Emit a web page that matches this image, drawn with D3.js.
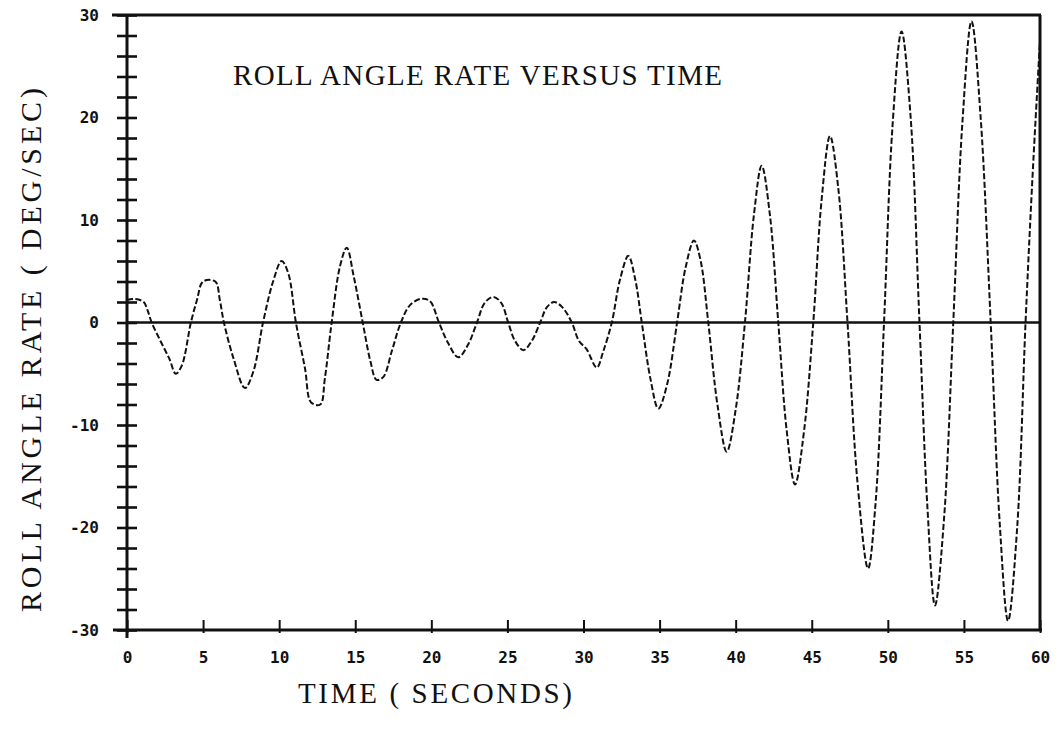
<!DOCTYPE html>
<html>
<head>
<meta charset="utf-8">
<script src="https://cdn.jsdelivr.net/npm/d3@7"></script>
<style>
  html, body { margin: 0; padding: 0; background: #fff; }
  svg { display: block; }
</style>
</head>
<body>
<svg id="chart" width="1059" height="730"></svg>
<script>
// ---- data ----
const timeSec = [0, 0.5, 1.1, 1.35, 1.62, 2.2, 2.8, 3.2, 3.6, 4.2, 4.6, 5.0, 5.8, 6.1, 6.37, 7.0, 7.75, 8.3, 8.94, 9.6,
  10.16, 10.6, 11.1, 11.7, 12.1, 12.7, 13.0, 13.45, 14.0, 14.44, 14.9, 15.49, 16.0, 16.4, 16.85, 17.4, 18.0, 18.6, 19.3, 19.9,
  20.5, 21.1, 21.77, 22.4, 23.0, 23.5, 24.07, 24.6, 25.05, 25.5, 26.05, 26.6, 27.15, 27.6, 28.07, 28.6, 29.23, 29.7, 30.2, 30.87,
  31.3, 31.86, 32.4, 32.95, 33.4, 33.83, 34.4, 34.92, 35.5, 36.15, 36.7, 37.26, 37.7, 38.2, 38.8, 39.41, 40.0, 40.61, 41.2, 41.71,
  42.25, 42.8, 43.35, 43.9, 44.5, 45.1, 45.65, 46.2, 46.75, 47.35, 48.0, 48.7, 49.2, 49.75, 50.3, 50.9, 51.5, 52.08, 52.6, 53.1,
  53.7, 54.3, 54.9, 55.5, 56.1, 56.76, 57.35, 57.9, 58.5, 59.05, 59.5, 60];
const rollRate = [2.2, 2.3, 2.0, 1.2, 0, -1.8, -3.6, -5.0, -4.2, 0, 2.2, 4.0, 4.0, 2.2, 0, -3.5, -6.4, -4.8, 0, 4.0,
  6.0, 4.8, 0, -4.5, -7.8, -8.0, -5.5, 0, 5.5, 7.3, 4.5, 0, -3.8, -5.6, -5.3, -2.8, 0, 1.7, 2.3, 2.1,
  0, -2.0, -3.4, -2.2, 0, 1.9, 2.5, 1.9, 0, -1.8, -2.7, -1.8, 0, 1.5, 2.0, 1.5, 0, -1.8, -2.6, -4.4,
  -2.8, 0, 4.2, 6.5, 4.2, 0, -5.5, -8.4, -6.0, 0, 5.3, 8.0, 6.0, 0, -8.0, -12.6, -8.5, 0, 10.5, 15.3,
  10.5, 0, -10.5, -15.8, -10.5, 0, 12.0, 18.2, 13.0, 0, -15.5, -24.0, -17.5, 0, 19.0, 28.4, 20.0, 0, -18.0, -27.6,
  -19.0, 0, 19.5, 29.4, 20.0, 0, -19.5, -29.1, -20.0, 0, 14.0, 27.5];
const xTickValues = [0, 5, 10, 15, 20, 25, 30, 35, 40, 45, 50, 55, 60];
const xTickLabels = ["0", "5", "10", "15", "20", "25", "30", "35", "40", "45", "50", "55", "60"];
const yTickValues = [30, 20, 10, 0, -10, -20, -30];
const yTickLabels = ["30", "20", "10", "0", "-10", "-20", "-30"];
const yMinorTicks = d3.range(-30, 31, 2);
const titleText = "ROLL ANGLE RATE VERSUS TIME";
const xLabelText = "TIME ( SECONDS)";
const yLabelText = "ROLL ANGLE RATE ( DEG/SEC)";

const points = timeSec.map((t, i) => ({ t, v: rollRate[i] }));

const svg = d3.select("#chart");
const x = d3.scaleLinear().domain([0, 60]).range([127, 1040]);
const y = d3.scaleLinear().domain([-30, 30]).range([630, 15]);

const ink = "#111";
const serifText = "'Liberation Serif', 'DejaVu Serif', serif";
const tickFont = "'DejaVu Sans Mono', monospace";

// frame: top and right borders
svg.append("line").attr("x1", 112).attr("x2", x(60) + 1).attr("y1", y(30)).attr("y2", y(30))
  .attr("stroke", ink).attr("stroke-width", 3);
svg.append("line").attr("x1", x(60)).attr("x2", x(60)).attr("y1", y(30)).attr("y2", y(-30) + 1)
  .attr("stroke", ink).attr("stroke-width", 3);

// zero line
svg.append("line").attr("x1", x(0)).attr("x2", x(60)).attr("y1", y(0)).attr("y2", y(0))
  .attr("stroke", ink).attr("stroke-width", 2.6);

// left axis: minor ticks crossing the axis every 2 units
const yAxis = d3.axisLeft(y).tickValues(yMinorTicks).tickSize(0).tickFormat("");
const gy = svg.append("g").attr("transform", `translate(${x(0)},0)`).call(yAxis);
gy.select(".domain").remove();
gy.append("line").attr("x1", 0).attr("x2", 0).attr("y1", y(30) - 1).attr("y2", y(-30) + 8)
  .attr("stroke", ink).attr("stroke-width", 3);
gy.selectAll(".tick").append("line").attr("x1", -10).attr("x2", 10).attr("stroke", ink).attr("stroke-width", 2.6);

// y tick labels
const yLab = d3.axisLeft(y).tickValues(yTickValues).tickSize(0)
  .tickFormat((d, i) => yTickLabels[i]);
const gyl = svg.append("g").attr("transform", `translate(99,0)`).call(yLab);
gyl.select(".domain").remove();
gyl.selectAll("text").attr("x", 0).attr("font-family", tickFont).attr("font-weight", "bold")
  .attr("font-size", 16).attr("fill", ink).attr("text-anchor", "end");

// bottom axis
const xAxis = d3.axisBottom(x).tickValues(xTickValues).tickSize(0)
  .tickFormat((d, i) => xTickLabels[i]);
const gx = svg.append("g").attr("transform", `translate(0,${y(-30)})`).call(xAxis);
gx.select(".domain").remove();
gx.append("line").attr("x1", 113).attr("x2", x(60) + 2).attr("y1", 0).attr("y2", 0)
  .attr("stroke", ink).attr("stroke-width", 3);
gx.selectAll(".tick").append("line").attr("y1", -10).attr("y2", 3).attr("stroke", ink).attr("stroke-width", 2);
gx.selectAll("text").attr("y", 22).attr("font-family", tickFont).attr("font-weight", "bold")
  .attr("font-size", 16).attr("fill", ink);

// data curve (dashed plotter trace)
const line = d3.line().x(d => x(d.t)).y(d => y(d.v)).curve(d3.curveCatmullRom.alpha(0.5));
svg.append("path").datum(points).attr("d", line)
  .attr("fill", "none").attr("stroke", ink).attr("stroke-width", 2)
  .attr("stroke-dasharray", "6,2.5");

// title
svg.append("text").attr("x", 233).attr("y", 85).text(titleText)
  .attr("font-family", serifText).attr("font-size", 29).attr("fill", ink)
  .attr("textLength", 489).attr("lengthAdjust", "spacing");

// x label
svg.append("text").attr("x", 298).attr("y", 703).text(xLabelText)
  .attr("font-family", serifText).attr("font-size", 29).attr("fill", ink)
  .attr("textLength", 274).attr("lengthAdjust", "spacing");

// y label
svg.append("text").attr("transform", "translate(41,612) rotate(-90)").text(yLabelText)
  .attr("font-family", serifText).attr("font-size", 30).attr("fill", ink)
  .attr("textLength", 524).attr("lengthAdjust", "spacing");
</script>
</body>
</html>
